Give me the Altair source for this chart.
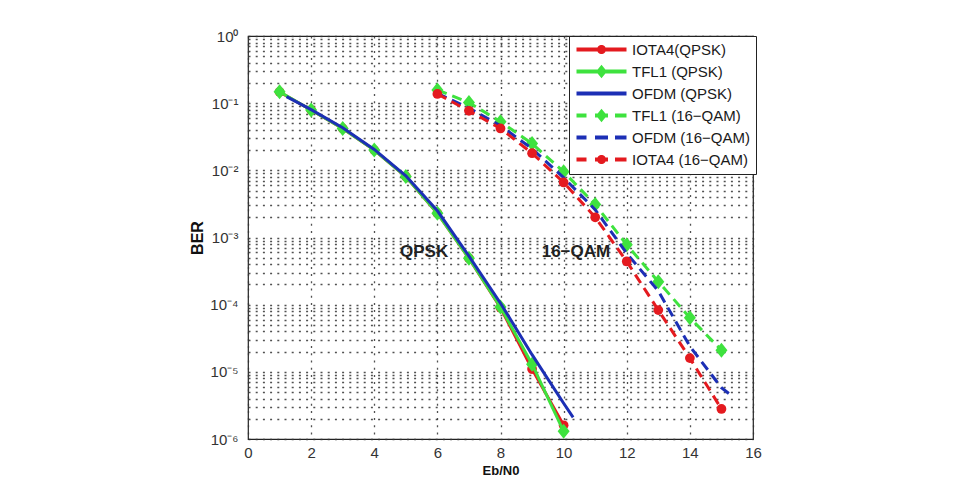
import math
import altair as alt
import pandas as pd

# ---- series (legend order) ----
SERIES = ["IOTA4(QPSK)", "TFL1 (QPSK)", "OFDM (QPSK)",
          "TFL1 (16−QAM)", "OFDM (16−QAM)", "IOTA4 (16−QAM)"]
RED, GREEN, BLUE = "#e41a1f", "#3ee23e", "#1c2fb5"
COLORS = [RED, GREEN, BLUE, GREEN, BLUE, RED]

# ---- QPSK curves ----
EBN0_QPSK = [1, 2, 3, 4, 5, 6, 7, 8, 9, 10]
BER_IOTA4_QPSK = [0.147, 0.079, 0.042, 0.020, 0.0081, 0.0023, 4.9e-4, 9.0e-5, 1.1e-5, 1.6e-6]
BER_TFL1_QPSK = [0.148, 0.079, 0.042, 0.020, 0.0081, 0.0023, 4.9e-4, 9.2e-5, 1.3e-5, 1.3e-6]
EBN0_OFDM_QPSK = [1.22, 2, 3, 4, 5, 6, 7, 8, 9, 10, 10.3]
BER_OFDM_QPSK = [0.125, 0.080, 0.043, 0.0205, 0.0083, 0.0025, 5.3e-4, 1.05e-4, 1.8e-5, 3.4e-6, 2.1e-6]

# ---- 16-QAM curves ----
EBN0_16QAM = [6, 7, 8, 9, 10, 11, 12, 13, 14, 15]
BER_TFL1_16QAM = [0.157, 0.102, 0.053, 0.025, 0.0095, 0.0031, 7.8e-4, 2.2e-4, 6.4e-5, 2.1e-5]
BER_IOTA4_16QAM = [0.137, 0.077, 0.042, 0.018, 0.0066, 0.0020, 4.4e-4, 8.3e-5, 1.6e-5, 2.8e-6]
EBN0_OFDM_16QAM = [6, 7, 8, 9, 10, 11, 12, 13, 14, 15, 15.3]
BER_OFDM_16QAM = [0.14, 0.085, 0.046, 0.021, 0.0078, 0.0026, 5.8e-4, 1.6e-4, 2.4e-5, 5.8e-6, 4.5e-6]

# ---- annotations ----
NOTE_TEXT = ["QPSK", "16−QAM"]
NOTE_X = [5.58, 10.39]
NOTE_Y = [6.1e-4, 6.1e-4]

# ---- axes ----
X_TICKS = [0, 2, 4, 6, 8, 10, 12, 14, 16]
DECADE_LABELS = ["10⁰", "10⁻¹", "10⁻²", "10⁻³", "10⁻⁴", "10⁻⁵", "10⁻⁶"]
Y_GRID = [k * 10.0 ** e for e in range(-6, 0) for k in range(1, 10)] + [1.0]

FONT = "Liberation Sans"

log10 = "(log(datum.value)/LN10)"
label_list = "[" + ",".join("'%s'" % s for s in DECADE_LABELS) + "]"
y_label_expr = (f"abs({log10} - round({log10})) < 0.001 ? "
                f"{label_list}[-round({log10})] : ''")

X = alt.X("ebn0:Q", title="Eb/N0",
          scale=alt.Scale(domain=[0, 16], nice=False, zero=False),
          axis=alt.Axis(values=X_TICKS, labelFlush=False, ticks=False, domain=False,
                        labelPadding=6, titlePadding=4, titleFontSize=13))
Y = alt.Y("ber:Q", title="BER",
          scale=alt.Scale(type="log", domain=[1e-6, 1], nice=False),
          axis=alt.Axis(values=Y_GRID, labelExpr=y_label_expr, labelOverlap=False,
                        labelFlush=False, ticks=False, domain=False,
                        labelPadding=10, titlePadding=4, titleFontSize=16))


def polygon(points):
    return "M" + "L".join(f"{x:.3f},{y:.3f}" for x, y in points) + "Z"


def rect(x0, x1, h):
    return polygon([(x0, -h), (x1, -h), (x1, h), (x0, h)])


DIAMOND = polygon([(0, -1.25), (1, 0), (0, 1.25), (-1, 0)])


def circle_path(r, n=18):
    return polygon([(r * math.cos(2 * math.pi * i / n), r * math.sin(2 * math.pi * i / n))
                    for i in range(n)])


# legend glyphs: a thick line (solid or dashed) with the series marker
SOLID = rect(-5, 5, 0.4)
DASHED = rect(-5, -3, 0.4) + rect(-1.3, 1.3, 0.4) + rect(2.7, 5, 0.4)
LEG_DIAMOND = polygon([(0, -1.35), (1.1, 0), (0, 1.35), (-1.1, 0)])
LEG_CIRCLE = circle_path(0.9)
LEGEND_PATHS = [SOLID + LEG_CIRCLE, SOLID + LEG_DIAMOND, SOLID,
                DASHED + LEG_DIAMOND, DASHED, DASHED + LEG_CIRCLE]


def curve(xs, ys, color, dashed, marker):
    df = pd.DataFrame({"ebn0": xs, "ber": ys})
    base = alt.Chart(df)
    line_kw = dict(color=color, strokeWidth=3, clip=True)
    if dashed:
        line_kw["strokeDash"] = [10, 6]
    layers = [base.mark_line(**line_kw).encode(x=X, y=Y)]
    if marker == "diamond":
        layers.append(base.mark_point(filled=True, opacity=1, shape=DIAMOND, size=144,
                                      color=color, strokeWidth=0).encode(x=X, y=Y))
    elif marker == "circle":
        layers.append(base.mark_point(filled=True, opacity=1, shape="circle", size=95,
                                      color=color, strokeWidth=0).encode(x=X, y=Y))
    return layers


layers = []
layers += curve(EBN0_QPSK, BER_IOTA4_QPSK, RED, False, "circle")
layers += curve(EBN0_QPSK, BER_TFL1_QPSK, GREEN, False, "diamond")
layers += curve(EBN0_OFDM_QPSK, BER_OFDM_QPSK, BLUE, False, None)
layers += curve(EBN0_16QAM, BER_TFL1_16QAM, GREEN, True, "diamond")
layers += curve(EBN0_OFDM_16QAM, BER_OFDM_16QAM, BLUE, True, None)
layers += curve(EBN0_16QAM, BER_IOTA4_16QAM, RED, True, "circle")

notes = alt.Chart(pd.DataFrame({"ebn0": NOTE_X, "ber": NOTE_Y, "note": NOTE_TEXT})).mark_text(
    font=FONT, fontSize=17, fontWeight="bold", color="#222"
).encode(x=X, y=Y, text="note:N")
layers.append(notes)

legend = alt.Legend(title=None, orient="none", legendX=321, legendY=0,
                    padding=6, rowPadding=6, symbolOffset=19, labelOffset=23,
                    labelFont=FONT, labelFontSize=15, labelColor="#1a1a1a",
                    fillColor="white", strokeColor="#222", cornerRadius=0,
                    symbolStrokeWidth=0, symbolSize=100, labelLimit=0)

legend_layer = alt.Chart(pd.DataFrame({"series": SERIES})).mark_point(
    filled=True, opacity=1, size=100
).encode(
    color=alt.Color("series:N", scale=alt.Scale(domain=SERIES, range=COLORS), legend=legend),
    shape=alt.Shape("series:N", scale=alt.Scale(domain=SERIES, range=LEGEND_PATHS), legend=legend),
).transform_filter("false")
layers.append(legend_layer)

chart = alt.layer(*layers).properties(
    width=505, height=403,
    autosize=alt.AutoSizeParams(type="none"),
    padding={"left": 248, "top": 36, "right": 204, "bottom": 43},
    background="white",
).configure_view(
    stroke="#222", strokeWidth=1.2
).configure_axis(
    grid=True, gridColor="#333", gridDash=[2, 5.2], gridWidth=1.3, gridOpacity=0.85,
    labelFont=FONT, labelFontSize=15, labelColor="#333",
    titleFont=FONT, titleFontWeight="bold", titleColor="#111",
)

chart.save("out.html", embed_options={"renderer": "svg", "actions": False})
